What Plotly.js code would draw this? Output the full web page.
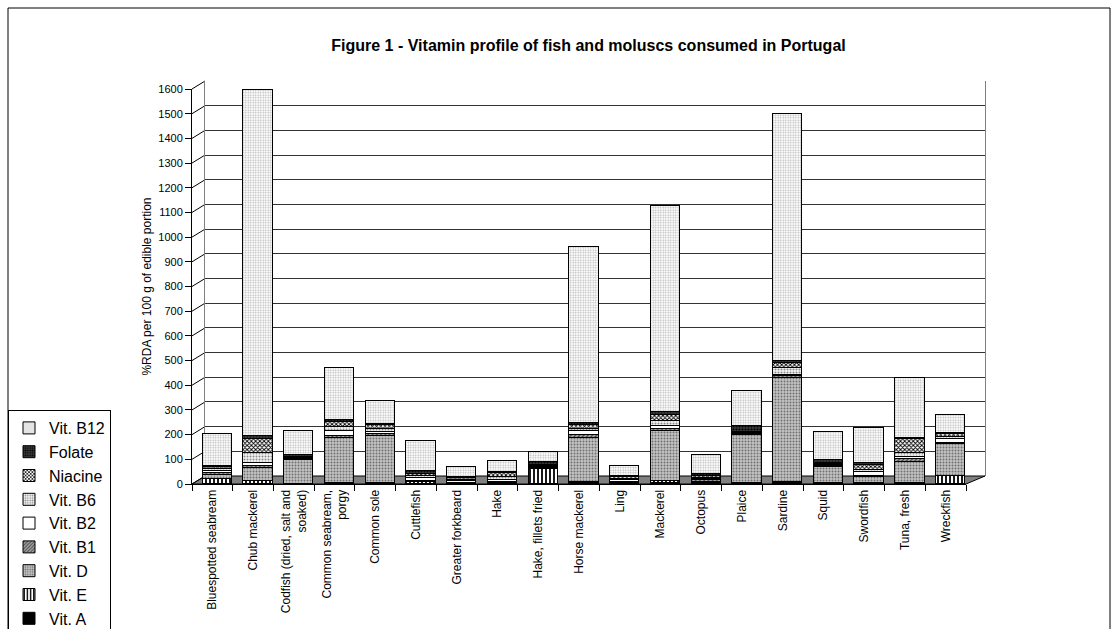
<!DOCTYPE html>
<html>
<head>
<meta charset="utf-8">
<script src="https://cdn.plot.ly/plotly-3.0.1.min.js"></script>
<style>
html,body{margin:0;padding:0;background:#fff;overflow:hidden;}
#chart{width:1118px;height:629px;}
</style>
</head>
<body>
<div id="chart"></div>
<script>
const categories = ["Bluespotted seabream","Chub mackerel","Codfish (dried, salt and<br>soaked)","Common seabream,<br>porgy","Common sole","Cuttlefish","Greater forkbeard","Hake","Hake, fillets fried","Horse mackerel","Ling","Mackerel","Octopus","Plaice","Sardine","Squid","Swordfish","Tuna, fresh","Wreckfish"];
const vitA    = [2, 3, 1, 3, 2, 3, 1, 1, 2, 5, 2, 5, 3, 2, 5, 3, 3, 3, 3];
const vitE    = [20, 12, 2, 5, 3, 8, 2, 3, 60, 5, 3, 10, 5, 3, 5, 3, 5, 5, 30];
const vitD    = [15, 50, 95, 180, 190, 2, 2, 3, 2, 180, 3, 200, 3, 195, 420, 65, 22, 85, 130];
const vitB1   = [10, 8, 5, 10, 8, 3, 3, 5, 3, 10, 4, 8, 6, 5, 8, 5, 5, 10, 5];
const vitB2   = [8, 15, 3, 20, 10, 12, 5, 8, 3, 15, 5, 15, 5, 3, 5, 5, 15, 10, 15];
const vitB6   = [8, 40, 3, 15, 12, 5, 5, 10, 4, 10, 5, 20, 6, 3, 30, 3, 10, 15, 8];
const niacine = [8, 55, 3, 20, 15, 8, 8, 15, 6, 15, 8, 25, 5, 3, 20, 5, 20, 55, 12];
const folate  = [5, 12, 8, 8, 5, 14, 4, 6, 10, 8, 4, 10, 10, 22, 7, 10, 8, 7, 5];
const vitB12  = [130, 1405, 95, 210, 95, 120, 42, 45, 40, 715, 42, 837, 75, 142, 1000, 115, 140, 240, 75];
const yTicks  = [0,100,200,300,400,500,600,700,800,900,1000,1100,1200,1300,1400,1500,1600];

const FONT = "Liberation Sans, Arial, sans-serif";
const L = 192, R = 133, T = 81, B = 145, FW = 1118, FH = 629;
const W = FW - L - R, HP = FH - T - B;
const px = p => (p - L) / W;
const py = p => (FH - B - p) / HP;

const styles = [
  {name:"Vit. A",   y:vitA,    color:"#000000", pattern:{shape:""}},
  {name:"Vit. E",   y:vitE,    color:"#ffffff", pattern:{shape:"|", fgcolor:"#000", bgcolor:"#fff", size:4, solidity:0.45}},
  {name:"Vit. D",   y:vitD,    color:"#c0c0c0", pattern:{shape:".", fgcolor:"#707070", bgcolor:"#c4c4c4", size:3, solidity:0.35}},
  {name:"Vit. B1",  y:vitB1,   color:"#909090", pattern:{shape:"/", fgcolor:"#404040", bgcolor:"#a8a8a8", size:3, solidity:0.4}},
  {name:"Vit. B2",  y:vitB2,   color:"#ffffff", pattern:{shape:""}},
  {name:"Vit. B6",  y:vitB6,   color:"#e0e0e0", pattern:{shape:".", fgcolor:"#8a8a8a", bgcolor:"#f4f4f4", size:3, solidity:0.35}},
  {name:"Niacine",  y:niacine, color:"#808080", pattern:{shape:"x", fgcolor:"#000", bgcolor:"#fff", size:3, solidity:0.5}},
  {name:"Folate",   y:folate,  color:"#202020", pattern:{shape:".", fgcolor:"#000", bgcolor:"#3a3a3a", size:3, solidity:0.4}},
  {name:"Vit. B12", y:vitB12,  color:"#eeeeee", pattern:{shape:".", fgcolor:"#b4b4b4", bgcolor:"#ffffff", size:2.5, solidity:0.35}}
];

const traces = styles.map(s => {
  const m = {color:s.color, line:{color:"#000", width:1}};
  if (s.pattern.shape) m.pattern = s.pattern;
  return {type:"bar", name:s.name, x:categories, y:s.y, xaxis:"x2", yaxis:"y2",
          marker:m, width:0.72, offset:-0.25, hoverinfo:"name+y"};
});
// invisible trace to activate the back-wall subplot
traces.unshift({type:"scatter", x:[categories[0]], y:[0], xaxis:"x", yaxis:"y", mode:"markers",
  marker:{opacity:0}, showlegend:false, hoverinfo:"skip"});

const backBottom = 476, backTop = 81;
const frontBottom = 484, frontTop = 89;
const shapes = [];
// floor
shapes.push({type:"path", xref:"paper", yref:"paper", layer:"below",
  path:`M ${px(192)} ${py(frontBottom)} L ${px(966)} ${py(frontBottom)} L ${px(985)} ${py(backBottom)} L ${px(205)} ${py(backBottom)} Z`,
  fillcolor:"#808080", line:{color:"#000", width:1}});
// connectors from front ticks to back wall
yTicks.forEach(v => {
  const yf = frontBottom - v/1600*(frontBottom-frontTop);
  const yb = backBottom - v/1600*(backBottom-backTop);
  shapes.push({type:"line", xref:"paper", yref:"paper", layer:"below",
    x0:px(192), y0:py(yf), x1:px(205), y1:py(yb), line:{color:"#000", width:1}});
});
// outer chart frame
shapes.push({type:"rect", xref:"paper", yref:"paper", layer:"above",
  x0:px(8), x1:px(1110), y0:py(700), y1:py(8), line:{color:"#000", width:1}, fillcolor:"rgba(0,0,0,0)"});

const layout = {
  width:FW, height:FH,
  margin:{l:L, r:R, t:T, b:B, pad:0, autoexpand:false},
  paper_bgcolor:"#ffffff", plot_bgcolor:"rgba(0,0,0,0)",
  font:{family:FONT, color:"#000", size:12},
  title:{text:"<b>Figure 1 - Vitamin profile of fish and moluscs consumed in Portugal</b>",
    font:{family:FONT, size:16, color:"#000"}, xref:"paper", x:0.5, xanchor:"center",
    yref:"container", y:1-45/FH, yanchor:"middle"},
  barmode:"stack",
  showlegend:true,
  legend:{x:px(8), y:py(410), xanchor:"left", yanchor:"top", traceorder:"reversed",
    entrywidth:95, entrywidthmode:"pixels",
    bgcolor:"#fff", bordercolor:"#000", borderwidth:1, font:{family:FONT, size:16, color:"#000"}},
  xaxis:{domain:[px(205), 1], anchor:"y", type:"category", categoryarray:categories, categoryorder:"array",
    range:[-0.5, 18.5], showticklabels:false, showgrid:false, zeroline:false, showline:false, ticks:""},
  yaxis:{domain:[py(backBottom), 1], anchor:"x", range:[0,1600], tickvals:yTicks, showticklabels:false,
    showgrid:true, gridcolor:"#333", gridwidth:1, zeroline:false,
    showline:true, mirror:true, linecolor:"#808080", linewidth:1, ticks:""},
  xaxis2:{domain:[0, px(966)], anchor:"y2", type:"category", categoryarray:categories, categoryorder:"array",
    range:[-0.5, 18.5], showgrid:false, zeroline:false, showline:true, linecolor:"#000", linewidth:1,
    ticks:"outside", tickson:"boundaries", ticklen:6, tickcolor:"#000", tickangle:-90,
    tickfont:{family:FONT, size:12, color:"#000"}},
  yaxis2:{domain:[0, py(frontTop)], anchor:"x2", range:[0,1600], tickvals:yTicks,
    showgrid:false, zeroline:false, showline:true, linecolor:"#000", linewidth:1,
    ticks:"outside", ticklen:6, tickcolor:"#000", tickfont:{family:FONT, size:11, color:"#000"},
    title:{text:"%RDA per 100 g of edible portion", font:{family:FONT, size:12, color:"#000"}, standoff:4}},
  shapes:shapes
};

Plotly.newPlot("chart", traces, layout, {displayModeBar:false, staticPlot:true});
</script>
</body>
</html>
